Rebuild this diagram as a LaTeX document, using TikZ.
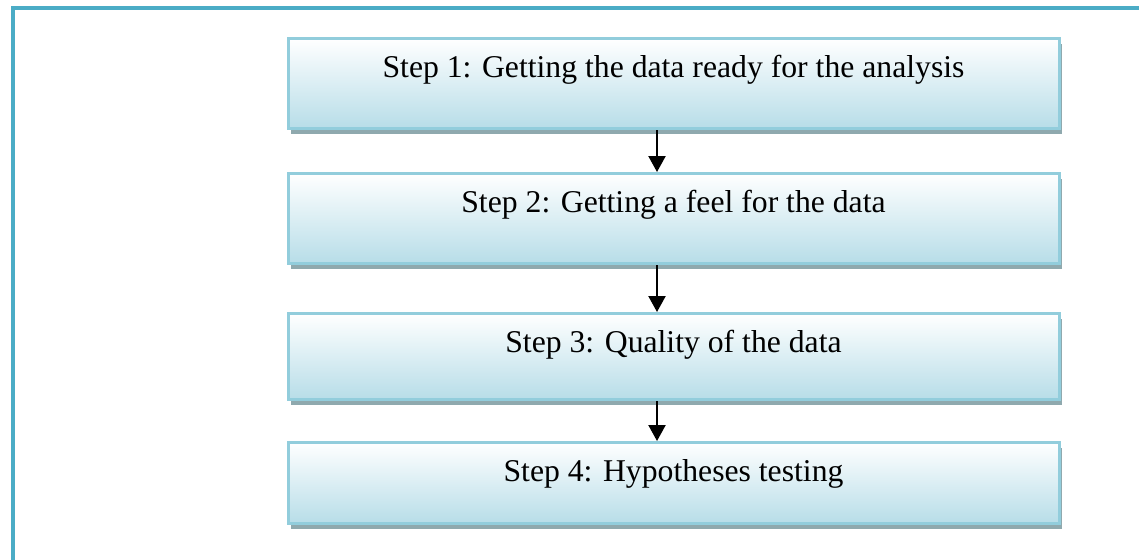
\documentclass[tikz,border=0pt]{standalone}
\usepackage{fontspec}
\setmainfont{Liberation Serif}
\usetikzlibrary{positioning, arrows.meta, shadows}

\definecolor{framecol}{HTML}{4BACC6}
\definecolor{boxline}{HTML}{92CDDC}
\definecolor{boxfill}{HTML}{B7DDE8}
\definecolor{boxshadow}{HTML}{8FA9AE}

\begin{document}
\begin{tikzpicture}[
  x=0.5pt, y=-0.5pt,
  font=\fontsize{15.85}{19}\selectfont,
  stepbox/.style={draw=boxline, line width=1.5pt, top color=white, bottom color=boxfill,
    minimum width=385.5pt, inner sep=0pt, text height=19.5pt, text depth=25.5pt,
    drop shadow={shadow xshift=1.5pt, shadow yshift=-2.5pt, fill=boxshadow, opacity=1}},
  flow/.style={-{Triangle[width=8.5pt, length=8pt]}, line width=1.1pt},
  node distance=21pt,
]
\useasboundingbox (0,0) rectangle (1139,559);
\clip (0,0) rectangle (1139,559);

% Frame
\draw[framecol, line width=2pt] (12.5,7.5) rectangle (1170,590);

% Steps
\node[stepbox, anchor=north] (s1) at (673.5,37) {Step 1: Getting the data ready for the analysis};
\node[stepbox, below=of s1] (s2) {Step 2: Getting a feel for the data};
\node[stepbox, below=23.5pt of s2, text depth=23.5pt] (s3) {Step 3: Quality of the data};
\node[stepbox, below=20pt of s3, text depth=21pt] (s4) {Step 4: Hypotheses testing};

% Arrows
\foreach \a/\b in {s1/s2, s2/s3, s3/s4}
  \draw[flow] ([xshift=-8.25pt]\a.south) -- ([xshift=-8.25pt]\b.north);
\end{tikzpicture}
\end{document}
